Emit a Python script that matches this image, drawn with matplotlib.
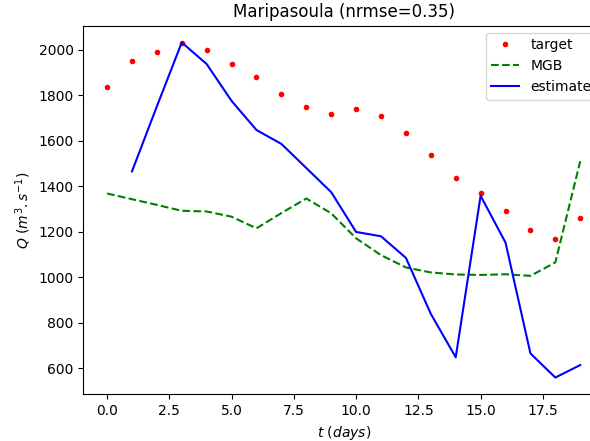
import matplotlib
matplotlib.use("Agg")
import matplotlib.pyplot as plt
import numpy as np

t = list(range(20))
target = [1838, 1950, 1991, 2030, 2000, 1940, 1881, 1808, 1749, 1718,
          1741, 1711, 1637, 1540, 1439, 1371, 1290, 1209, 1170, 1260]
mgb = [1369, 1344, 1319, 1293, 1290, 1267, 1216, 1283, 1347, 1282,
       1172, 1098, 1044, 1022, 1013, 1011, 1014, 1007, 1066, 1511]
t_est = list(range(1, 20))
estimate = [1466, 1752, 2033, 1938, 1776, 1648, 1587, 1481, 1375, 1200,
            1181, 1086, 840, 649, 1359, 1153, 666, 560, 615]

fig = plt.figure(figsize=(5.9, 4.41), dpi=100)
ax = fig.add_axes([83.4/590, 46.7/441, 520.5/590, 368.6/441])
ax.plot(t, target, 'r.', label='target')
ax.plot(t, mgb, 'g--', label='MGB')
ax.plot(t_est, estimate, 'b-', label='estimate')
ax.set_title('Maripasoula (nrmse=0.35)')
ax.set_xlabel(r'$t\ (days)$')
ax.set_ylabel(r'$Q\ (m^3.s^{-1})$')
ax.legend(loc='upper right')
fig.savefig('out.png', dpi=100)
